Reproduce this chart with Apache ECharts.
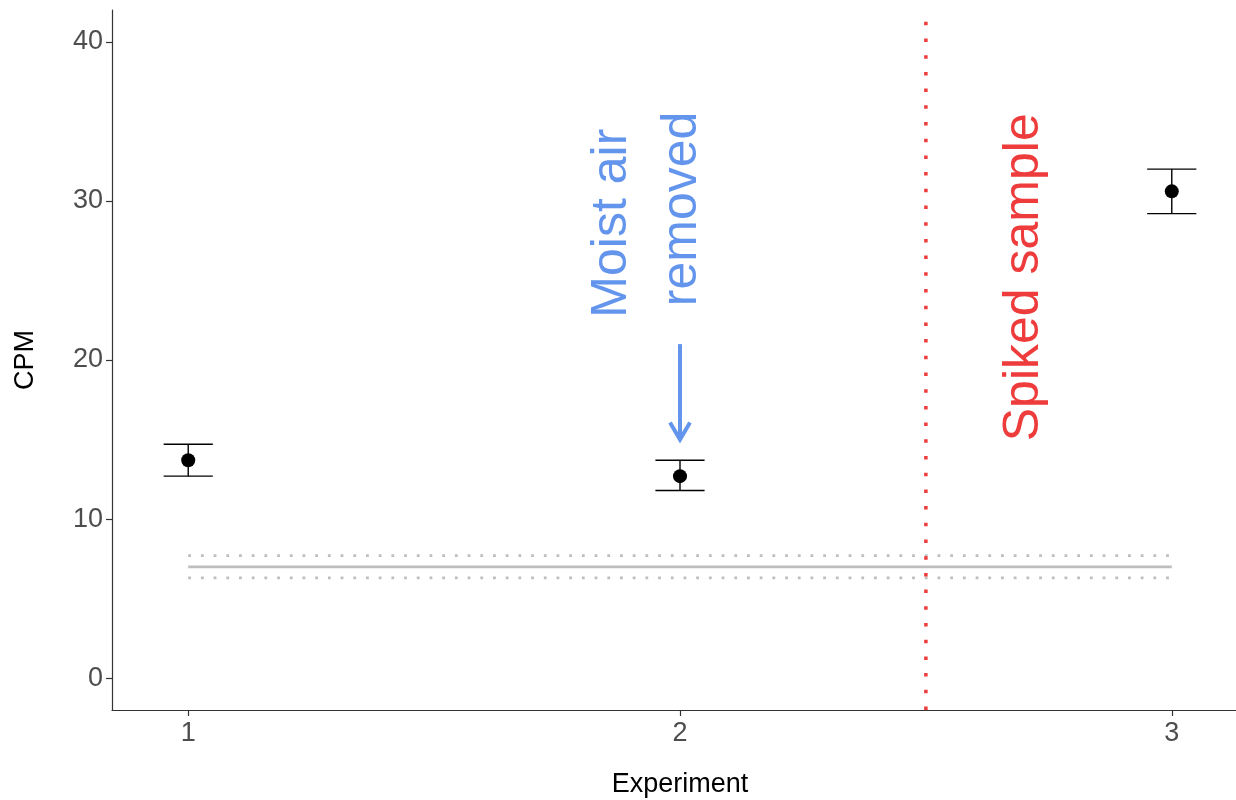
<!DOCTYPE html>
<html>
<head>
<meta charset="utf-8">
<title>CPM by experiment</title>
<script src="https://cdn.jsdelivr.net/npm/echarts@6/dist/echarts.min.js"></script>
<style>
  html, body { margin: 0; padding: 0; background: #ffffff; }
  #chart { width: 1236px; height: 800px; }
</style>
</head>
<body>
<div id="chart"></div>
<script>
// Measured counts per minute for each experiment (mean with error range)
const experiments = [1, 2, 3];
const cpmMean = [13.7, 12.7, 30.6];
const cpmLow = [12.7, 11.8, 29.2];
const cpmHigh = [14.7, 13.7, 32.0];

// Background level (solid) with its band (dotted), spanning experiments 1 to 3
const backgroundSpan = [1, 3];
const backgroundLevel = 7.0;
const backgroundBand = [6.3, 7.7];

// Divider between unspiked and spiked runs
const spikeDividerX = 2.5;

// Axis ticks
const xTicks = [1, 2, 3];
const yTicks = [0, 10, 20, 30, 40];

// Annotations: [x, y, text]
const blueNotes = [[1.862, 28.6, 'Moist air'], [2.004, 29.5, 'removed']];
const redNotes = [[2.70, 25.2, 'Spiked sample']];
// Arrow from (x, yStart) pointing down to (x, yEnd)
const arrowX = 2;
const arrowFrom = 21.0;
const arrowTo = 15.0;

const BLUE = '#6495ED';
const RED = '#EE3B3B';
const GRAY = '#BEBEBE';
const AXIS = '#333333';
const FONT = '"Liberation Sans", Arial, sans-serif';

const chart = echarts.init(document.getElementById('chart'));

const errorData = experiments.map((x, i) => [x, cpmLow[i], cpmHigh[i]]);
const pointData = experiments.map((x, i) => [x, cpmMean[i]]);

function noteSeries(notes, color) {
  return {
    type: 'scatter',
    silent: true,
    symbolSize: 0,
    itemStyle: { opacity: 1 },
    data: notes.map(n => ({ value: [n[0], n[1]], name: n[2] })),
    label: {
      show: true,
      position: 'inside',
      rotate: 90,
      align: 'center',
      verticalAlign: 'middle',
      formatter: p => p.name,
      color: color,
      opacity: 1,
      fontSize: 50,
      fontFamily: FONT
    },
    z: 5
  };
}

const option = {
  backgroundColor: '#ffffff',
  animation: false,
  grid: {
    left: 112,
    right: -12,
    top: 10,
    bottom: 90,
    outerBoundsMode: 'none'
  },
  xAxis: {
    type: 'value',
    min: 0.845,
    max: 3.155,
    name: 'Experiment',
    nameLocation: 'middle',
    nameGap: 61,
    nameTextStyle: { color: '#000000', fontSize: 27, fontFamily: FONT },
    axisLine: { show: true, onZero: false, lineStyle: { color: AXIS, width: 1.2 } },
    axisTick: { show: true, length: 6, customValues: xTicks, lineStyle: { color: AXIS, width: 1.2 } },
    axisLabel: { customValues: xTicks, margin: 10, color: '#4D4D4D', fontSize: 27, fontFamily: FONT },
    splitLine: { show: false }
  },
  yAxis: {
    type: 'value',
    min: -2,
    max: 42,
    name: 'CPM',
    nameLocation: 'middle',
    nameGap: 73,
    nameRotate: 90,
    nameTextStyle: { color: '#000000', fontSize: 27, fontFamily: FONT },
    axisLine: { show: true, onZero: false, lineStyle: { color: AXIS, width: 1.2 } },
    axisTick: { show: true, length: 6, customValues: yTicks, lineStyle: { color: AXIS, width: 1.2 } },
    axisLabel: { customValues: yTicks, margin: 9, color: '#4D4D4D', fontSize: 27, fontFamily: FONT },
    splitLine: { show: false }
  },
  series: [
    // Background band, dotted
    {
      type: 'line', silent: true, symbol: 'none',
      data: backgroundSpan.map(x => [x, backgroundBand[1]]),
      lineStyle: { color: GRAY, width: 2.8, type: [2.8, 9.9], cap: 'butt' }
    },
    {
      type: 'line', silent: true, symbol: 'none',
      data: backgroundSpan.map(x => [x, backgroundBand[0]]),
      lineStyle: { color: GRAY, width: 2.8, type: [2.8, 9.9], cap: 'butt' }
    },
    // Background level, solid
    {
      type: 'line', silent: true, symbol: 'none',
      data: backgroundSpan.map(x => [x, backgroundLevel]),
      lineStyle: { color: GRAY, width: 2.8 }
    },
    // Spiked divider
    {
      type: 'line', silent: true, symbol: 'none',
      data: [[spikeDividerX, -2], [spikeDividerX, 42]],
      lineStyle: { color: RED, width: 3.5, type: [3.5, 13.2], cap: 'butt' },
      z: 3
    },
    // Error bars
    {
      type: 'custom',
      silent: true,
      data: errorData,
      renderItem: function (params, api) {
        const x = api.value(0);
        const lo = api.coord([x, api.value(1)]);
        const hi = api.coord([x, api.value(2)]);
        const half = api.size([0.1, 0])[0] / 2;
        const style = { stroke: '#000000', lineWidth: 1.4, fill: null };
        return {
          type: 'group',
          children: [
            { type: 'line', shape: { x1: lo[0], y1: lo[1], x2: hi[0], y2: hi[1] }, style },
            { type: 'line', shape: { x1: lo[0] - half, y1: lo[1], x2: lo[0] + half, y2: lo[1] }, style },
            { type: 'line', shape: { x1: hi[0] - half, y1: hi[1], x2: hi[0] + half, y2: hi[1] }, style }
          ]
        };
      },
      z: 4
    },
    // Means
    {
      type: 'scatter',
      silent: true,
      data: pointData,
      symbol: 'circle',
      symbolSize: 14,
      itemStyle: { color: '#000000', opacity: 1 },
      z: 6
    },
    // Arrow pointing at experiment 2
    {
      type: 'custom',
      silent: true,
      data: [[arrowX, arrowFrom, arrowTo]],
      renderItem: function (params, api) {
        const start = api.coord([api.value(0), api.value(1)]);
        const tip = api.coord([api.value(0), api.value(2)]);
        const style = { stroke: BLUE, lineWidth: 4, fill: null, lineCap: 'butt', lineJoin: 'miter' };
        return {
          type: 'group',
          children: [
            { type: 'line', shape: { x1: start[0], y1: start[1], x2: tip[0], y2: tip[1] - 2 }, style },
            {
              type: 'polyline',
              shape: { points: [[tip[0] - 10, tip[1] - 17], [tip[0], tip[1]], [tip[0] + 10, tip[1] - 17]] },
              style
            }
          ]
        };
      },
      z: 5
    },
    noteSeries(blueNotes, BLUE),
    noteSeries(redNotes, RED)
  ]
};

chart.setOption(option);
</script>
</body>
</html>
